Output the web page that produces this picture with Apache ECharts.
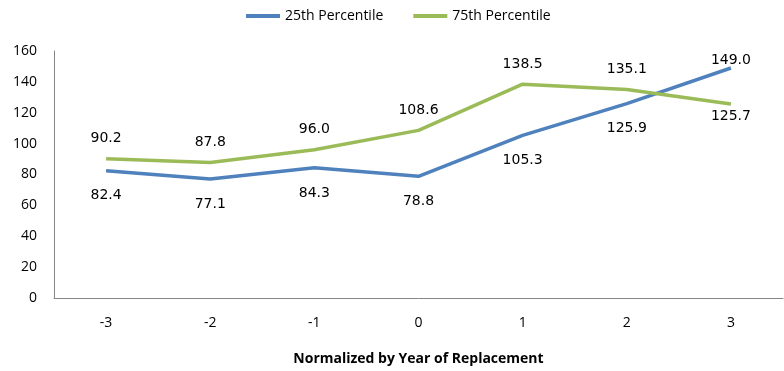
<!DOCTYPE html>
<html>
<head>
<meta charset="utf-8">
<script src="https://cdn.jsdelivr.net/npm/echarts@6/dist/echarts.min.js"></script>
<style>
  html, body { margin: 0; padding: 0; background: #fff; }
  #chart { width: 784px; height: 371px; }
</style>
</head>
<body>
<div id="chart"></div>
<script>
// Year offsets relative to the replacement year
const years = ['-3', '-2', '-1', '0', '1', '2', '3'];
const p25 = [82.4, 77.1, 84.3, 78.8, 105.3, 125.9, 149.0];
const p75 = [90.2, 87.8, 96.0, 108.6, 138.5, 135.1, 125.7];
const seriesNames = ['25th Percentile', '75th Percentile'];
const yTicks = { min: 0, max: 160, step: 20 };

const labelFont = { fontFamily: 'DejaVu Sans', fontSize: 14, color: '#000' };

// Labels sit below the lower line and above the upper one; the last
// point flips because the lines cross between 2 and 3.
function withLabels(values, defaultPos, lastPos, dist, lastDist) {
  return values.map((v, i) => {
    const last = i === values.length - 1;
    return {
      value: v,
      label: {
        show: true,
        position: last ? lastPos : defaultPos,
        distance: last ? lastDist : dist,
        formatter: (p) => p.value.toFixed(1),
        ...labelFont
      }
    };
  });
}

const chart = echarts.init(document.getElementById('chart'), null, { renderer: 'canvas' });
chart.setOption({
  animation: false,
  backgroundColor: '#fff',
  textStyle: { fontFamily: 'Open Sans' },
  legend: {
    left: 246,
    top: 8,
    padding: 0,
    itemWidth: 34,
    itemHeight: 4,
    itemGap: 30,
    icon: 'rect',
    data: seriesNames,
    textStyle: { fontFamily: 'Open Sans', fontSize: 14, color: '#000', lineHeight: 16 }
  },
  grid: { left: 54, right: 1, top: 51, bottom: 72, containLabel: false },
  xAxis: {
    type: 'category',
    data: years,
    boundaryGap: true,
    name: 'Normalized by Year of Replacement',
    nameLocation: 'middle',
    nameGap: 54,
    nameTextStyle: { fontFamily: 'Open Sans', fontSize: 14, fontWeight: 'bold', color: '#000', verticalAlign: 'top' },
    axisLine: { lineStyle: { color: '#868686', width: 1 } },
    axisTick: { show: false },
    axisLabel: { margin: 18, fontFamily: 'Open Sans', fontSize: 14, color: '#000' },
    splitLine: { show: false }
  },
  yAxis: {
    type: 'value',
    min: yTicks.min,
    max: yTicks.max,
    interval: yTicks.step,
    axisLine: { show: true, lineStyle: { color: '#868686', width: 1 } },
    axisTick: { show: false },
    axisLabel: { margin: 17, fontFamily: 'Open Sans', fontSize: 14, color: '#000' },
    splitLine: { show: false }
  },
  series: [
    {
      name: seriesNames[0],
      type: 'line',
      data: withLabels(p25, 'bottom', 'top', 18, 1),
      symbol: 'circle',
      symbolSize: 0,
      showSymbol: true,
      color: '#4F81BD',
      lineStyle: { width: 3.5, color: '#4F81BD' }
    },
    {
      name: seriesNames[1],
      type: 'line',
      data: withLabels(p75, 'top', 'bottom', 13, 5),
      symbol: 'circle',
      symbolSize: 0,
      showSymbol: true,
      color: '#9BBB59',
      lineStyle: { width: 3.5, color: '#9BBB59' }
    }
  ]
});
</script>
</body>
</html>
